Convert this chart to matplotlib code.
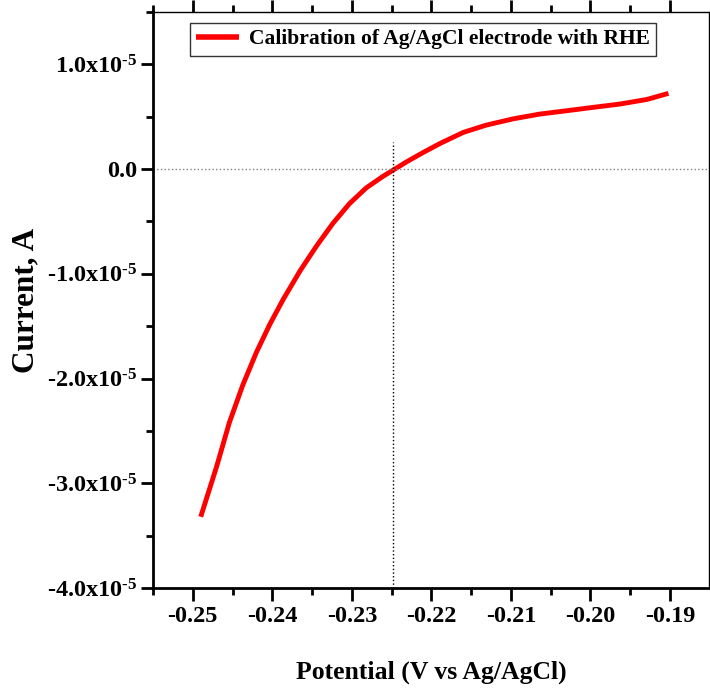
import matplotlib.pyplot as plt
import numpy as np
from matplotlib.ticker import FixedLocator, MultipleLocator

plt.rcParams['font.family'] = 'Liberation Serif'
plt.rcParams['font.weight'] = 'bold'
plt.rcParams['mathtext.fontset'] = 'custom'
plt.rcParams['mathtext.rm'] = 'Liberation Serif:bold'
plt.rcParams['mathtext.default'] = 'rm'

# Data
potential = [-0.2490, -0.2470, -0.2454, -0.2437, -0.2420, -0.2403, -0.2386,
             -0.2365, -0.2344, -0.2324, -0.2303, -0.2282, -0.2261, -0.2246, -0.2231,
             -0.2210, -0.2189, -0.2160, -0.2131, -0.2097, -0.2064, -0.2030, -0.1997,
             -0.1963, -0.1929, -0.1902]
current = [-3.32e-5, -2.84e-5, -2.42e-5, -2.06e-5, -1.75e-5, -1.48e-5, -1.24e-5,
           -0.97e-5, -0.73e-5, -0.52e-5, -0.33e-5, -0.18e-5, -0.07e-5, 0.0, 0.07e-5,
           0.16e-5, 0.245e-5, 0.35e-5, 0.42e-5, 0.48e-5, 0.525e-5, 0.557e-5, 0.589e-5,
           0.621e-5, 0.665e-5, 0.723e-5]

x_ticks = [-0.25, -0.24, -0.23, -0.22, -0.21, -0.20, -0.19]
x_labels = ['-0.25', '-0.24', '-0.23', '-0.22', '-0.21', '-0.20', '-0.19']
y_ticks = [1.0e-5, 0.0, -1.0e-5, -2.0e-5, -3.0e-5, -4.0e-5]
y_labels = ['1.0x10$^{\u20105}$', '0.0', '-1.0x10$^{\u20105}$', '-2.0x10$^{\u20105}$',
            '-3.0x10$^{\u20105}$', '-4.0x10$^{\u20105}$']
zero_potential = -0.2248

fig = plt.figure(figsize=(7.10, 6.97), dpi=100)
ax = fig.add_axes([0.2155, 0.1564, 0.7831, 0.8264])

ax.plot(potential, current, color='red', linewidth=3.5, solid_joinstyle='round',
        solid_capstyle='butt', label='Calibration of Ag/AgCl electrode with RHE')

ax.axhline(0, color='grey', linestyle=':', linewidth=1)
ax.plot([zero_potential, zero_potential], [-4.0e-5, 0.26e-5], color='black',
        linestyle=':', linewidth=1)

ax.set_xlim(-0.255, -0.1851)
ax.set_ylim(-4.0e-5, 1.5e-5)

ax.xaxis.set_major_locator(FixedLocator(x_ticks))
ax.set_xticklabels(x_labels)
ax.xaxis.set_minor_locator(MultipleLocator(0.005))
ax.yaxis.set_major_locator(FixedLocator(y_ticks))
ax.set_yticklabels(y_labels)
ax.yaxis.set_minor_locator(MultipleLocator(0.5e-5))

ax.tick_params(axis='both', which='major', direction='out', length=9, width=2,
               labelsize=17.5, pad=4)
ax.tick_params(axis='y', which='major', pad=2)
ax.tick_params(axis='both', which='minor', direction='out', length=5, width=2)
ax.tick_params(axis='x', which='both', top=True)

for s in ['left', 'bottom']:
    ax.spines[s].set_linewidth(2)
for s in ['top', 'right']:
    ax.spines[s].set_linewidth(1)

ax.set_xlabel('Potential (V vs Ag/AgCl)', fontsize=18.5, fontweight='bold', labelpad=24)
ax.set_ylabel('Current, A', fontsize=22.5, fontweight='bold', labelpad=5)

leg = ax.legend(loc='upper left', bbox_to_anchor=(0.066, 0.981), fontsize=15.5,
                frameon=True, fancybox=False, edgecolor='black', handlelength=2.0,
                borderpad=0.3, handletextpad=0.45, borderaxespad=0)
leg.get_frame().set_linewidth(1)
leg.get_lines()[0].set_linewidth(4)

fig.savefig('out.png', dpi=100)
